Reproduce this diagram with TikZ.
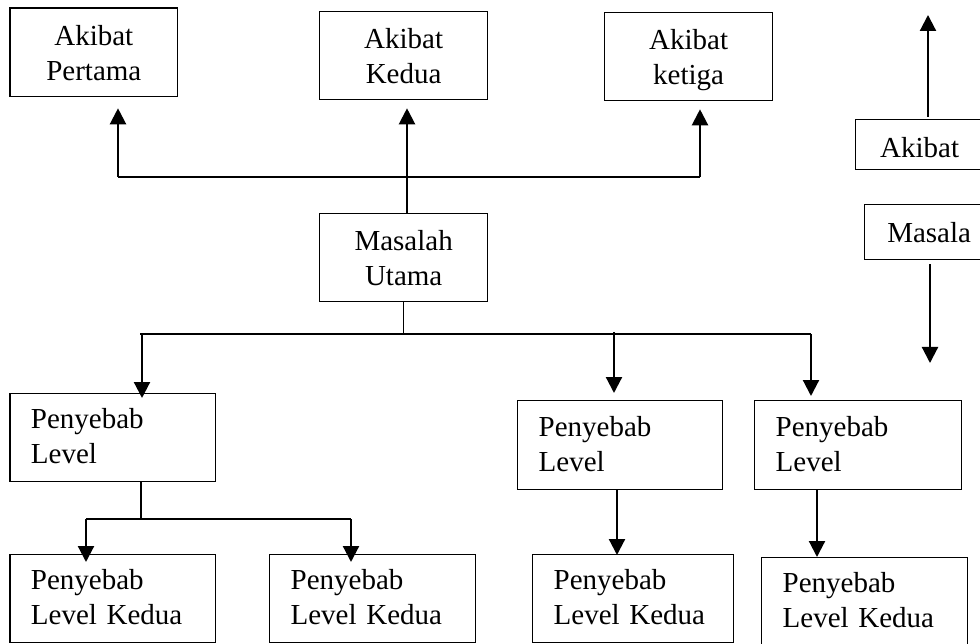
\documentclass[tikz,border=0pt]{standalone}
\usepackage{fontspec}
\setmainfont{Liberation Serif}
\usetikzlibrary{arrows.meta}

\tikzset{
  box/.style={draw=black, line width=1.3pt, inner xsep=0pt, inner ysep=0pt,
    anchor=north west, font=\fontsize{29}{35}\selectfont},
  cbox/.style={box, align=center, text height=21pt, text depth=35pt},
  lbox/.style={box, align=left, inner xsep=21pt, text height=17pt, text depth=35pt},
  sbox/.style={box, align=center, text height=20pt, text depth=0pt},
  thinline/.style={line width=1.3pt, draw=black},
  arr/.style={line width=2.2pt, draw=black, -{Triangle[width=16pt,length=16pt]}},
}

\begin{document}
\begin{tikzpicture}[x=1pt, y=-1pt]
\useasboundingbox (0,0) rectangle (980,644);
\clip (0,0) rectangle (980,644);

% effects
\node[cbox, text width=167.7pt, minimum height=88.7pt] (a1) at (9.3,7.3) {Akibat\\Pertama};
\node[cbox, text width=168pt, minimum height=88.3pt] (a2) at (319,10.7) {Akibat\\Kedua};
\node[cbox, text width=168pt, minimum height=88pt] (a3) at (604,12) {Akibat\\ketiga};

% core problem
\node[cbox, text width=168pt, minimum height=88pt] (mu) at (319,213) {Masalah\\Utama};

% legend on the right edge
\node[sbox, text width=128pt, minimum height=50pt, text height=25pt] (ak) at (855,119) {Akibat};
\node[sbox, text width=129pt, minimum height=55pt] (ms) at (864,204) {Masala};

% first-level causes
\node[lbox, text width=163.7pt, minimum height=88pt] (p1) at (9.3,393) {Penyebab\\Level};
\node[lbox, text width=163pt, minimum height=89pt] (p2) at (517,400) {Penyebab\\Level};
\node[lbox, text width=165pt, minimum height=89pt] (p3) at (754,400) {Penyebab\\Level};

% second-level causes
\node[lbox, text width=163.7pt, minimum height=88pt] (b1) at (9.3,554) {Penyebab\\Level Kedua};
\node[lbox, text width=164pt, minimum height=88pt] (b2) at (269,554) {Penyebab\\Level Kedua};
\node[lbox, text width=159pt, minimum height=88pt] (b3) at (532,554) {Penyebab\\Level Kedua};
\node[lbox, text width=164pt, minimum height=88pt] (b4) at (761,557) {Penyebab\\Level Kedua};

% junction points
\coordinate (uL) at (118,177);
\coordinate (uM) at (407,177);
\coordinate (uR) at (700,177);
\coordinate (jL0) at (140,334);
\coordinate (jL) at (142,334);
\coordinate (jM) at (614,332);
\coordinate (jR) at (811,334);
\coordinate (sJ) at (141,519);
\coordinate (sL) at (86,519);
\coordinate (sR) at (351,519);
\coordinate (cM) at (617,489);
\coordinate (cR) at (817,489);
\coordinate (rUp) at (928,15);
\coordinate (rDn) at (930,363);

% problem to effects
\draw[thinline] (uL) -- (uR);
\draw[arr, shorten >=11pt] (uL) -- (uL |- a1.south);
\draw[arr, shorten >=8pt] (uM |- mu.north) -- (uM |- a2.south);
\draw[arr, shorten >=8pt] (uR) -- (uR |- a3.south);

% problem to causes
\draw[thinline] (mu.south) -- (mu.south |- jL0);
\draw[thinline] (jL0) -- (jR);
\draw[arr, shorten >=-5pt] (jL) -- (jL |- p1.north);
\draw[arr, shorten >=7pt] (jM) -- (jM |- p2.north);
\draw[arr, shorten >=4pt] (jR) -- (jR |- p3.north);

% causes to second-level causes
\draw[thinline] (sJ |- p1.south) -- (sJ);
\draw[thinline] (sL) -- (sR);
\draw[arr, shorten >=-8pt] (sL) -- (sL |- b1.north);
\draw[arr, shorten >=-8pt] (sR) -- (sR |- b2.north);
\draw[arr, shorten >=-1pt] (cM |- p2.south) -- (cM |- b3.north);
\draw[arr] (cR |- p3.south) -- (cR |- b4.north);

% legend arrows
\draw[arr, shorten <=2pt] (rUp |- ak.north) -- (rUp);
\draw[arr, shorten <=4pt] (rDn |- ms.south) -- (rDn);
\end{tikzpicture}
\end{document}
